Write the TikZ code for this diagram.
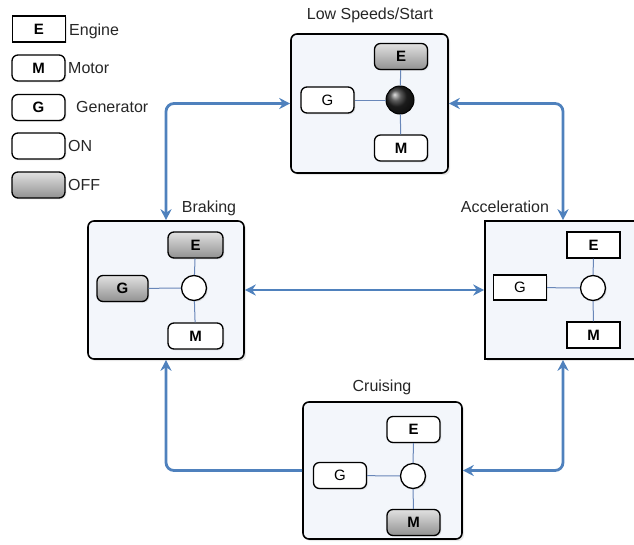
\documentclass[tikz,border=0pt]{standalone}
\usepackage{fontspec}
\setmainfont{Liberation Sans}
\usetikzlibrary{arrows.meta,shadows}
\definecolor{arrowblue}{RGB}{79,129,189}
\definecolor{linkblue}{RGB}{105,135,185}
\definecolor{boxfill}{RGB}{243,246,251}
\definecolor{offtop}{RGB}{225,225,225}
\definecolor{offbot}{RGB}{145,145,145}
\tikzset{
  modebox/.style={draw=black, line width=1.6pt, rounded corners=6pt, fill=boxfill,
    inner sep=0pt, drop shadow={opacity=0.18, shadow xshift=2pt, shadow yshift=-2pt}},
  part/.style={draw=black, line width=1.3pt, rounded corners=6pt, minimum width=53pt,
    minimum height=26pt, inner sep=0pt, font=\fontsize{15}{17}\selectfont\bfseries,
    fill=white, drop shadow={opacity=0.18, shadow xshift=1.3pt, shadow yshift=-1.3pt}},
  sharp/.style={rounded corners=0pt},
  off/.style={top color=offtop, bottom color=offbot},
  junction/.style={circle, draw=black, line width=1.3pt, fill=white, minimum size=25pt,
    inner sep=0pt, drop shadow={opacity=0.18, shadow xshift=1.3pt, shadow yshift=-1.3pt}},
  ball/.style={circle, draw=black, line width=1pt, shading=ball, ball color=black!85,
    minimum size=28pt, inner sep=0pt},
  link/.style={draw=linkblue, line width=1pt},
  title/.style={font=\fontsize{16}{18}\selectfont, text=black!85, inner sep=0pt},
  legtext/.style={font=\fontsize{16}{18}\selectfont, text=black!85, inner sep=0pt, anchor=west},
  flow/.style={draw=arrowblue, line width=2.8pt, rounded corners=8pt},
  tip/.tip={Stealth[length=11pt,width=11pt]}
}
\begin{document}
\begin{tikzpicture}[x=1pt,y=-1pt]
\useasboundingbox (0,0) rectangle (634,544);
\clip (0,0) rectangle (634,544);

% legend
\node[part, sharp] (kE) at (39,29) {E};
\node[legtext] (kEt) at (69,31) {Engine};
\node[part] (kM) at (38.5,68) {M};
\node[legtext] (kMt) at (68,68) {Motor};
\node[part] (kG) at (38.5,107.5) {G};
\node[legtext] (kGt) at (76,107) {Generator};
\node[part] (kOn) at (38.5,146) {};
\node[legtext] (kOnt) at (68,146) {ON};
\node[part, off] (kOff) at (38.5,185) {};
\node[legtext] (kOfft) at (68,185) {OFF};

% mode boxes
\node[modebox, minimum width=157pt, minimum height=139pt] (ls) at (369.5,103.5) {};
\node[modebox, minimum width=156pt, minimum height=138pt] (brk) at (166,290) {};
\node[modebox, sharp, minimum width=156pt, minimum height=138pt] (acc) at (563,290) {};
\node[modebox, minimum width=159pt, minimum height=137pt] (cru) at (382.5,470.5) {};

% titles
\node[title] (lsT) at (370,15) {Low Speeds/Start};
\node[title] (brkT) at (209,208) {Braking};
\node[title] (accT) at (505,207) {Acceleration};
\node[title] (cruT) at (382,387) {Cruising};

% Low speeds/start
\node[part, off] (lsE) at (401,56.5) {E};
\node[part] (lsG) at (327.5,100) {\mdseries G};
\node[ball] (lsJ) at (400,100) {};
\node[part] (lsM) at (401,148) {M};
\draw[link] (lsG) -- (lsJ);
\draw[link] (lsE) -- (lsJ);
\draw[link] (lsM) -- (lsJ);

% Braking
\node[part, off, minimum width=55pt] (brkE) at (195.5,245) {E};
\node[part, off, minimum width=51pt] (brkG) at (122.5,288.5) {G};
\node[junction] (brkJ) at (194,288) {};
\node[part, minimum width=55pt] (brkM) at (195.5,336) {M};
\draw[link] (brkG) -- (brkJ);
\draw[link] (brkE) -- (brkJ);
\draw[link] (brkM) -- (brkJ);

% Acceleration
\node[part, sharp] (accE) at (593.5,245) {E};
\node[part, sharp, minimum height=25pt] (accG) at (520,287.5) {\mdseries G};
\node[junction] (accJ) at (593,288) {};
\node[part, sharp] (accM) at (593.5,335) {M};
\draw[link] (accG) -- (accJ);
\draw[link] (accE) -- (accJ);
\draw[link] (accM) -- (accJ);

% Cruising
\node[part] (cruE) at (413.5,429.5) {E};
\node[part] (cruG) at (340,475.5) {\mdseries G};
\node[junction] (cruJ) at (413,476) {};
\node[part, off] (cruM) at (413.5,522.5) {M};
\draw[link] (cruG) -- (cruJ);
\draw[link] (cruE) -- (cruJ);
\draw[link] (cruM) -- (cruJ);

% transitions
\draw[flow, tip-tip] (ls.west) -| (brk.north);
\draw[flow, tip-tip] (ls.east) -| (acc.north);
\draw[flow, tip-tip] (brk.east) -- (acc.west);
\draw[flow, -tip] (cru.west) -| (brk.south);
\draw[flow, tip-tip] (cru.east) -| (acc.south);
\end{tikzpicture}
\end{document}
